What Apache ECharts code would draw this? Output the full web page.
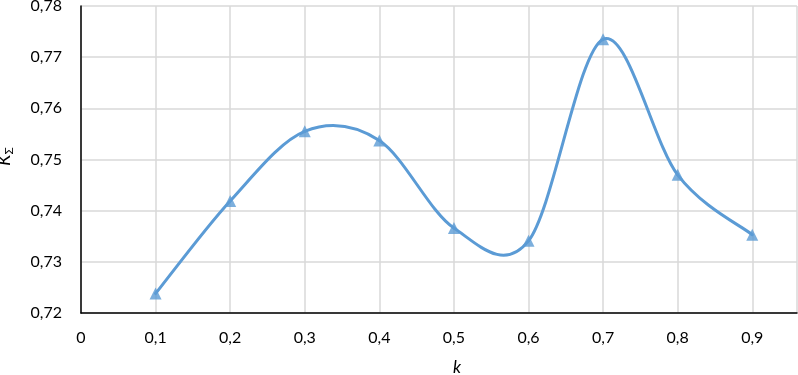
<!DOCTYPE html>
<html><head><meta charset="utf-8">
<script src="https://cdn.jsdelivr.net/npm/echarts@6/dist/echarts.min.js"></script>
<style>html,body{margin:0;padding:0;background:#fff}#c{width:798px;height:375px}</style>
</head><body><div id="c"></div>
<script>
const kValues = [0.1, 0.2, 0.3, 0.4, 0.5, 0.6, 0.7, 0.8, 0.9];
const kSigma = [0.7238, 0.7419, 0.7555, 0.7537, 0.7366, 0.7341, 0.7735, 0.7470, 0.7353];
const xTicks = [0, 0.1, 0.2, 0.3, 0.4, 0.5, 0.6, 0.7, 0.8, 0.9];
const yTicks = [0.72, 0.73, 0.74, 0.75, 0.76, 0.77, 0.78];

const fmt = v => String(v).replace('.', ',');
const points = kValues.map((k, i) => [k, kSigma[i]]);
const LINE = '#5b9bd5';

// Smoothed (Catmull-Rom style, as in spreadsheet "smoothed line") segment from point i to i+1
function renderSegment(params, api) {
  const i = params.dataIndex;
  if (i >= points.length - 1) return null;
  const P = j => api.coord(points[Math.max(0, Math.min(points.length - 1, j))]);
  const p0 = P(i - 1), p1 = P(i), p2 = P(i + 1), p3 = P(i + 2);
  const c1 = [p1[0] + (p2[0] - p0[0]) / 6, p1[1] + (p2[1] - p0[1]) / 6];
  const c2 = [p2[0] - (p3[0] - p1[0]) / 6, p2[1] - (p3[1] - p1[1]) / 6];
  return {
    type: 'bezierCurve',
    shape: {x1: p1[0], y1: p1[1], cpx1: c1[0], cpy1: c1[1], cpx2: c2[0], cpy2: c2[1], x2: p2[0], y2: p2[1]},
    style: {stroke: LINE, lineWidth: 3, fill: null, lineCap: 'round'},
    z2: 1
  };
}

const chart = echarts.init(document.getElementById('c'));
chart.setOption({
  animation: false,
  grid: {left: 81, right: 1, top: 6, bottom: 62, outerBoundsMode: 'none', containLabel: false},
  xAxis: {
    type: 'value', min: 0, max: 0.96, interval: 0.1,
    name: 'k', nameLocation: 'middle', nameGap: 46,
    nameTextStyle: {fontFamily: 'Lato', fontStyle: 'italic', fontSize: 17, color: '#000', padding: [0, 0, 0, 36]},
    axisLine: {lineStyle: {color: '#000', width: 1.5}},
    axisTick: {show: false},
    axisLabel: {
      fontFamily: 'Lato', fontSize: 16, color: '#000', margin: 17, showMaxLabel: false,
      formatter: v => {
        const r = Math.round(v * 10) / 10;
        return xTicks.some(t => Math.abs(t - v) < 1e-9) ? fmt(r) : '';
      }
    },
    splitLine: {show: true, lineStyle: {color: '#d9d9d9', width: 1.5}}
  },
  yAxis: {
    type: 'value', min: yTicks[0], max: yTicks[yTicks.length - 1], interval: 0.01,
    name: '{k|K}{s|Σ}', nameLocation: 'middle', nameGap: 66, nameRotate: 90,
    nameTextStyle: {
      padding: [0, 0, 0, 6],
      rich: {
        k: {fontFamily: 'Lato', fontStyle: 'italic', fontSize: 18, color: '#000'},
        s: {fontFamily: 'Lato', fontSize: 12, color: '#000', padding: [9, 0, 0, 0]}
      }
    },
    axisLine: {show: true, lineStyle: {color: '#000', width: 1.5}},
    axisTick: {show: false},
    axisLabel: {fontFamily: 'Lato', fontSize: 16, color: '#000', margin: 19,
      formatter: v => fmt(Math.round(v * 100) / 100)},
    splitLine: {show: true, lineStyle: {color: '#d9d9d9', width: 1.5}}
  },
  series: [{
    type: 'custom',
    renderItem: renderSegment,
    data: points,
    z: 2
  }, {
    type: 'scatter',
    data: points,
    symbol: 'triangle', symbolSize: 12,
    itemStyle: {color: LINE},
    z: 3
  }]
});
</script></body></html>
